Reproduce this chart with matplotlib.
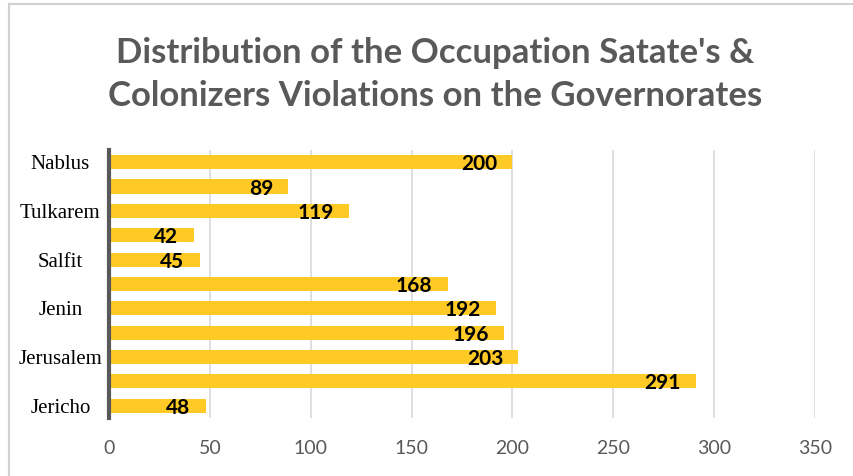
import matplotlib
matplotlib.use("Agg")
import matplotlib.pyplot as plt
from matplotlib.patches import Rectangle


# Governorates, top to bottom (only every other name is printed on the chart)
GOVERNORATES = ["Nablus", "", "Tulkarem", "", "Salfit", "",
                "Jenin", "", "Jerusalem", "", "Jericho"]
VIOLATIONS = [200, 89, 119, 42, 45, 168, 192, 196, 203, 291, 48]
X_TICKS = [0, 50, 100, 150, 200, 250, 300, 350]

TITLE = "Distribution of the Occupation Satate's &\nColonizers Violations on the Governorates"

BAR_COLOR = "#FFC926"
GREY_TEXT = "#595959"


def main():
    fig = plt.figure(figsize=(8.54, 4.76), dpi=100)
    fig.patches.append(Rectangle((0.011, -0.01), 1.0, 1.001, transform=fig.transFigure,
                                 fill=False, edgecolor="#d0d0d0", linewidth=1.5))

    ax = fig.add_axes([0.1276, 0.122, 0.8267, 0.563])
    pos = list(range(len(VIOLATIONS)))
    ax.barh(pos, VIOLATIONS, height=0.58, color=BAR_COLOR, zorder=2)
    ax.set_ylim(len(VIOLATIONS) - 0.5, -0.5)
    ax.set_xlim(0, 350)

    for i, v in enumerate(VIOLATIONS):
        ax.annotate(str(v), xy=(v, i), xytext=(-11, -1.5), textcoords="offset points",
                    ha="right", va="center", fontsize=15, fontweight="bold",
                    family="Lato", color="black", zorder=4)

    ax.set_yticks(pos)
    ax.set_yticklabels(GOVERNORATES, family="Liberation Serif", fontsize=15, ha="center")
    ax.tick_params(axis="y", length=0, pad=35)
    ax.set_xticks(X_TICKS)
    ax.set_xticklabels([str(t) for t in X_TICKS], family="Lato", fontsize=14,
                       color=GREY_TEXT)
    ax.tick_params(axis="x", length=0, pad=16)
    ax.grid(axis="x", color="#d9d9d9", linewidth=1.2, zorder=0)
    for side in ["top", "right", "bottom"]:
        ax.spines[side].set_visible(False)
    ax.spines["left"].set_color("#595959")
    ax.spines["left"].set_linewidth(3)
    ax.spines["left"].set_zorder(3)

    fig.text(0.51, 0.843, TITLE, ha="center", va="center", family="Lato",
             fontweight="bold", fontsize=25, color=GREY_TEXT, linespacing=1.42)

    fig.savefig("out.png", dpi=100)


if __name__ == "__main__":
    main()
